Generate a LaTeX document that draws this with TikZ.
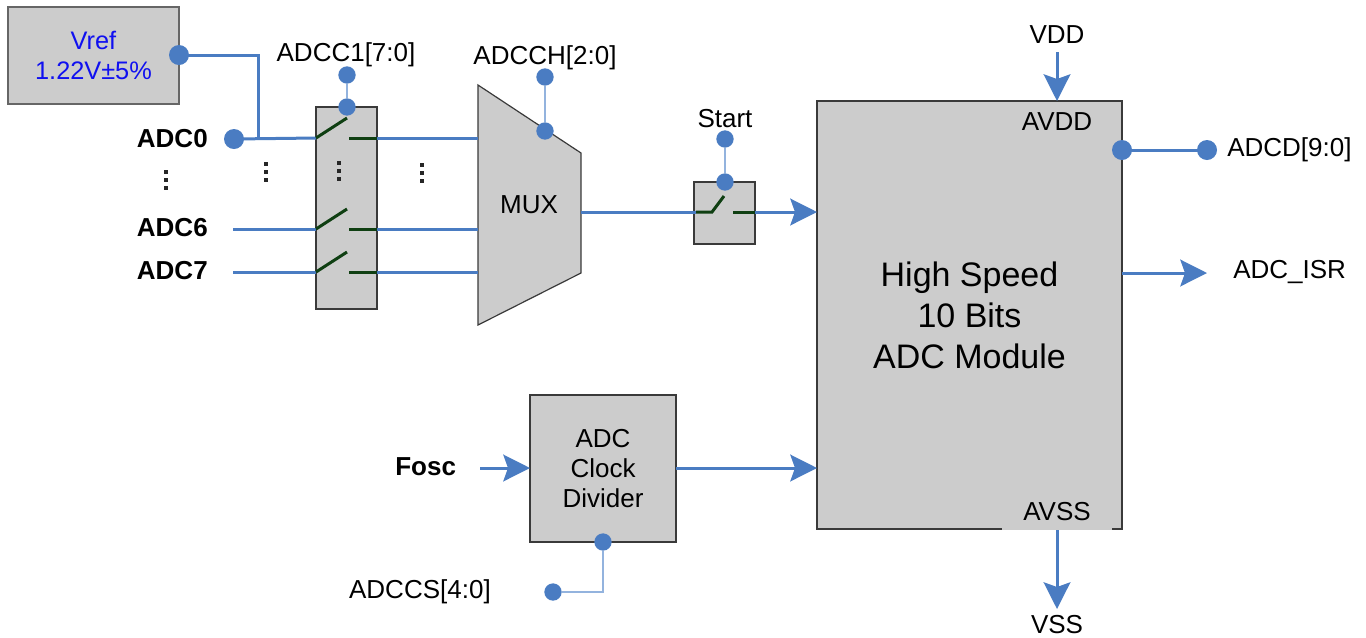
\documentclass[tikz,border=0pt]{standalone}
\usepackage{fontspec}
\setmainfont{Liberation Sans}
\usetikzlibrary{arrows.meta}
\definecolor{wireblue}{HTML}{4A7CC2}
\definecolor{thinblue}{HTML}{93B3DE}
\definecolor{boxgray}{HTML}{CCCCCC}
\definecolor{bordergray}{HTML}{3A3A3A}
\definecolor{swgreen}{HTML}{0F3F12}
\definecolor{vrefblue}{HTML}{1010F0}
\tikzset{
  wire/.style={draw=wireblue, line width=2.25pt},
  ctrl/.style={draw=thinblue, line width=1.1pt},
  arr/.style={wire, -{Stealth[length=20pt,width=20pt,inset=3.5pt]}},
  bigdot/.style={circle, fill=wireblue, minimum size=15pt, inner sep=0pt},
  smalldot/.style={circle, fill=wireblue, minimum size=13pt, inner sep=0pt},
  blk/.style={fill=boxgray, draw=bordergray, line width=0.9pt, inner sep=0pt},
  swline/.style={draw=swgreen, line width=2.25pt},
  lbl/.style={inner sep=0pt, font=\fontsize{19.5}{22.5}\selectfont},
  blbl/.style={inner sep=0pt, font=\fontsize{19.5}{22.5}\selectfont\bfseries},
  vdot/.style={fill=black!85},
}
\begin{document}
\begin{tikzpicture}[x=0.75pt,y=-0.75pt]
\useasboundingbox (0,0) rectangle (1366,637);

% ---- blocks
\node[blk, draw=black!60, minimum width=128.25pt, minimum height=72.75pt, align=center,
      text=vrefblue, font=\fontsize{19}{22.5}\selectfont] (vref) at (93.5,55.5) {Vref\\1.22V±5\%};
\node[blk, minimum width=45.75pt, minimum height=151.5pt] (swbox) at (346.5,208) {};
\draw[blk] (478,85) -- (581,153) -- (581,273) -- (478,325) -- cycle;
\node[lbl] (mux) at (529,205) {MUX};
\node[blk, minimum width=45.75pt, minimum height=46.5pt] (startbox) at (724.5,213) {};
\node[blk, minimum width=228.75pt, minimum height=321pt, align=center,
      font=\fontsize{25.5}{30.75}\selectfont] (adc) at (969.5,315) {High Speed\\10 Bits\\ADC Module};
\node[blk, minimum width=109.5pt, minimum height=110.25pt, align=center,
      font=\fontsize{19.5}{22.5}\selectfont] (div) at (603,468.5) {ADC\\Clock\\Divider};

% ---- labels
\node[blbl, anchor=east] (l0) at (208,139) {ADC0};
\node[blbl, anchor=east] (l6) at (208,228) {ADC6};
\node[blbl, anchor=east] (l7) at (208,271) {ADC7};
\node[lbl] (adcc1) at (346,55) {ADCC1[7:0]};
\node[lbl] (adcch) at (545,58) {ADCCH[2:0]};
\node[lbl] (start) at (725,119) {Start};
\node[lbl] (vdd) at (1057,35) {VDD};
\node[lbl] (avdd) at (1057,122) {AVDD};
\node[lbl, fill=boxgray, inner xsep=16pt, inner ysep=0pt, minimum height=27pt, anchor=south] (avss) at (1057,530) {AVSS};
\node[lbl] (vss) at (1057,625) {VSS};
\node[lbl, anchor=west] (adcd) at (1227,150) {ADCD[9:0]};
\node[lbl, anchor=west] (isr) at (1233,272) {ADC\_ISR};
\node[blbl, anchor=west] (fosc) at (395,467) {Fosc};
\node[lbl, anchor=east] (adccs) at (491,592) {ADCCS[4:0]};

% ---- coordinates
\coordinate (vjoin) at (258,55);
\coordinate (ajoin) at (258,138);
\coordinate (sw0in) at (316,138);
\coordinate (sw6in) at (316,229);
\coordinate (sw7in) at (316,272);
\coordinate (in6) at (233,229);
\coordinate (in7) at (233,272);
\coordinate (sw0out) at (377,138);
\coordinate (sw6out) at (377,229);
\coordinate (sw7out) at (377,272);
\coordinate (mux0) at (478,138);
\coordinate (mux6) at (478,229);
\coordinate (mux7) at (478,272);
\coordinate (muxout) at (581,212);
\coordinate (stin) at (696,212);
\coordinate (stout) at (755,212);
\coordinate (adcin1) at (817,212);
\coordinate (adcin2) at (817,468);
\coordinate (divout) at (676,468);
\coordinate (divin) at (530,468);
\coordinate (foscend) at (480,468);
\coordinate (vddtop) at (1057,52);
\coordinate (vddtip) at (1057,101);
\coordinate (vssbase) at (1057,530);
\coordinate (vsstip) at (1057,609);
\coordinate (isrbase) at (1122,273);
\coordinate (isrtip) at (1207,273);
\coordinate (ccsbend) at (603,592);

% ---- dots
\node[bigdot] (vrefdot) at (179,55) {};
\node[bigdot] (adc0dot) at (234,139) {};
\node[smalldot] (c1top) at (347,75) {};
\node[smalldot] (c1bot) at (347,107) {};
\node[smalldot] (chtop) at (545,77) {};
\node[smalldot] (chbot) at (545,131) {};
\node[smalldot] (sttop) at (725,139) {};
\node[smalldot] (stbot) at (725,182) {};
\node[bigdot] (dodot1) at (1122,150) {};
\node[bigdot] (dodot2) at (1207,150) {};
\node[smalldot] (ccsbot) at (603,542) {};
\node[smalldot] (ccsdot) at (553,592) {};

% ---- control lines
\draw[ctrl] (c1top) -- (c1bot);
\draw[ctrl] (chtop) -- (chbot);
\draw[ctrl] (sttop) -- (stbot);
\draw[ctrl] (ccsbot) -- (ccsbend) -- (ccsdot);

% ---- wires
\draw[wire] (vrefdot.center) -- (vjoin) -- (ajoin);
\draw[wire] (adc0dot.center) -- (sw0in);
\draw[wire] (in6) -- (sw6in);
\draw[wire] (in7) -- (sw7in);
\draw[wire] (sw0out) -- (mux0);
\draw[wire] (sw6out) -- (mux6);
\draw[wire] (sw7out) -- (mux7);
\draw[wire] (muxout) -- (stin);
\draw[wire] (dodot1.center) -- (dodot2.center);

% ---- switches
\foreach \y in {138,229,272}{
  \draw[swline] (316,\y) -- (347,\y-20);
  \draw[swline] (349,\y) -- (377,\y);
}
\draw[swline] (stin) -- (712,212) -- (724,196);
\draw[swline] (733,212) -- (stout);

% ---- arrows
\draw[arr] (stout) -- (adcin1);
\draw[arr] (divout) -- (adcin2);
\draw[arr] (foscend) -- (divin);
\draw[arr] (vddtop) -- (vddtip);
\draw[arr] (vssbase) -- (vsstip);
\draw[arr] (isrbase) -- (isrtip);

% ---- vertical ellipses
\foreach \x/\y in {166/180,266/172,339/171,422/173}{
  \foreach \d in {-8,0,8}{
    \fill[vdot] (\x-1.6,\y+\d-1.8) rectangle (\x+1.6,\y+\d+1.8);
  }
}
\end{tikzpicture}
\end{document}
